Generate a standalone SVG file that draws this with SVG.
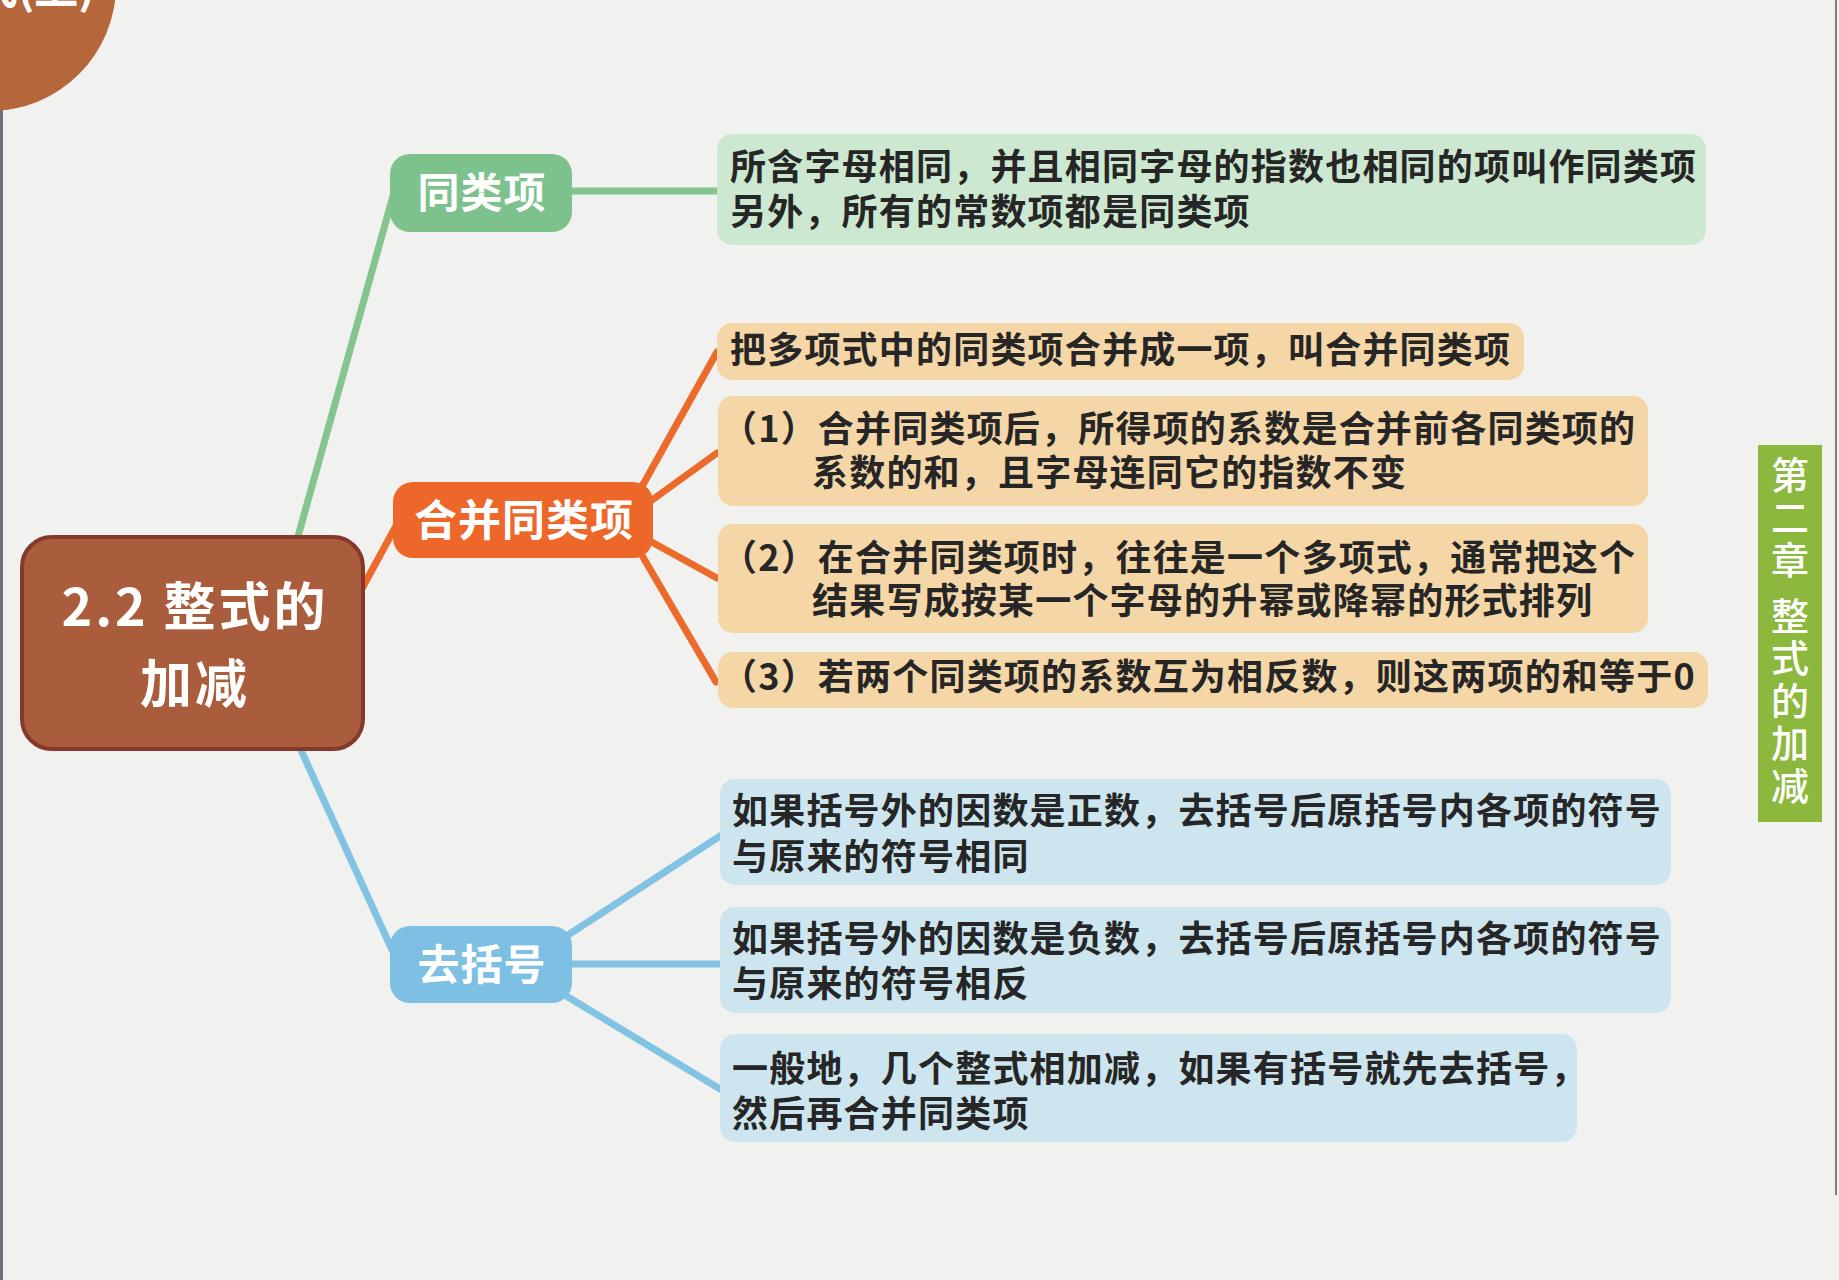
<svg xmlns="http://www.w3.org/2000/svg" width="1839" height="1280" viewBox="0 0 1839 1280">
  <style>
    .bg { fill: #f1f1ef; }
    .node-text { font-family: "Noto Sans CJK SC", "Noto Sans", sans-serif; font-weight: 700; fill: #ffffff; text-anchor: middle; }
    .box-text { font-family: "Noto Sans CJK SC", "Noto Sans", sans-serif; font-weight: 700; fill: #262626; font-size: 36px; letter-spacing: 1.2px; }
    .green-box { fill: #cde8d1; }
    .orange-box { fill: #f5d6a7; }
    .blue-box { fill: #cde5ef; }
    .line { fill: none; stroke-width: 7; stroke-linecap: round; }
    .g { stroke: #84c48e; }
    .o { stroke: #ec6a2b; }
    .b { stroke: #82c2e2; }
    .vtext { font-family: "Noto Sans CJK SC", "Noto Sans", sans-serif; font-weight: 500; font-size: 38px; fill: #ffffff; writing-mode: vertical-rl; letter-spacing: 4.5px; }
  </style>
  <rect class="bg" x="0" y="0" width="1839" height="1280"/>
  <rect x="0" y="0" width="3" height="1280" fill="#6e7277"/>
  <line x1="1836" y1="0" x2="1836" y2="1195" stroke="#7d7d7d" stroke-width="2"/>

  <g id="corner-badge">
    <circle cx="-10" cy="-15" r="126" fill="#b5663a"/>
    <text x="95" y="4" font-family="Noto Sans CJK SC, Noto Sans, sans-serif" font-weight="700" font-size="44" fill="#ffffff" text-anchor="end">式(上)</text>
  </g>

  <g id="connectors">
    <line class="line g" x1="297" y1="540" x2="393" y2="196"/>
    <line class="line g" x1="570" y1="191" x2="717" y2="191"/>
    <line class="line o" x1="360" y1="592" x2="402" y2="515"/>
    <line class="line o" x1="640" y1="490" x2="717" y2="352"/>
    <line class="line o" x1="648" y1="503" x2="717" y2="453"/>
    <line class="line o" x1="648" y1="540" x2="717" y2="578"/>
    <line class="line o" x1="640" y1="552" x2="716" y2="682"/>
    <line class="line b" x1="300" y1="748" x2="393" y2="952"/>
    <line class="line b" x1="568" y1="935" x2="720" y2="836"/>
    <line class="line b" x1="568" y1="964" x2="720" y2="964"/>
    <line class="line b" x1="568" y1="997" x2="720" y2="1089"/>
  </g>

  <g id="root">
    <rect x="22" y="537" width="341" height="212" rx="30" fill="#a95d3d" stroke="#85392a" stroke-width="4"/>
    <text class="node-text" font-size="52" letter-spacing="3"><tspan x="195" y="626">2.2 整式的</tspan><tspan x="195" y="703">加减</tspan></text>
  </g>

  <g id="n-tongleixiang">
    <rect x="390" y="154" width="182" height="78" rx="20" fill="#7dc28c"/>
    <text class="node-text" x="482" y="208" font-size="42" letter-spacing="1">同类项</text>
  </g>

  <g id="n-hebing">
    <rect x="393" y="482" width="260" height="76" rx="20" fill="#ec6729"/>
    <text class="node-text" x="524" y="536" font-size="43" letter-spacing="1">合并同类项</text>
  </g>

  <g id="n-qukuohao">
    <rect x="390" y="926" width="182" height="77" rx="20" fill="#7dc0e3"/>
    <text class="node-text" x="482" y="980" font-size="42" letter-spacing="1">去括号</text>
  </g>

  <g id="b-tongleixiang">
    <rect class="green-box" x="717" y="134" width="989" height="111" rx="15"/>
    <text class="box-text"><tspan x="730" y="180">所含字母相同，并且相同字母的指数也相同的项叫作同类项</tspan><tspan x="730" y="225">另外，所有的常数项都是同类项</tspan></text>
  </g>

  <g id="b-hebing-def">
    <rect class="orange-box" x="717" y="323" width="807" height="57" rx="15"/>
    <text class="box-text" x="730" y="363">把多项式中的同类项合并成一项，叫合并同类项</text>
  </g>

  <g id="b-hebing-1">
    <rect class="orange-box" x="718" y="396" width="930" height="110" rx="15"/>
    <text class="box-text"><tspan x="721" y="442">（1）合并同类项后，所得项的系数是合并前各同类项的</tspan><tspan x="812" y="486">系数的和，且字母连同它的指数不变</tspan></text>
  </g>

  <g id="b-hebing-2">
    <rect class="orange-box" x="718" y="524" width="930" height="109" rx="15"/>
    <text class="box-text"><tspan x="721" y="571">（2）在合并同类项时，往往是一个多项式，通常把这个</tspan><tspan x="812" y="614">结果写成按某一个字母的升幂或降幂的形式排列</tspan></text>
  </g>

  <g id="b-hebing-3">
    <rect class="orange-box" x="718" y="652" width="990" height="56" rx="15"/>
    <text class="box-text" x="721" y="690">（3）若两个同类项的系数互为相反数，则这两项的和等于0</text>
  </g>

  <g id="b-qukuohao-1">
    <rect class="blue-box" x="720" y="779" width="951" height="106" rx="15"/>
    <text class="box-text"><tspan x="732" y="824">如果括号外的因数是正数，去括号后原括号内各项的符号</tspan><tspan x="732" y="870">与原来的符号相同</tspan></text>
  </g>

  <g id="b-qukuohao-2">
    <rect class="blue-box" x="720" y="907" width="951" height="106" rx="15"/>
    <text class="box-text"><tspan x="732" y="952">如果括号外的因数是负数，去括号后原括号内各项的符号</tspan><tspan x="732" y="997">与原来的符号相反</tspan></text>
  </g>

  <g id="b-qukuohao-3">
    <rect class="blue-box" x="720" y="1034" width="857" height="108" rx="15"/>
    <text class="box-text"><tspan x="732" y="1082">一般地，几个整式相加减，如果有括号就先去括号，</tspan><tspan x="732" y="1127">然后再合并同类项</tspan></text>
  </g>

  <g id="side-tab">
    <rect x="1758" y="445" width="64" height="377" fill="#8cb83e"/>
    <text class="vtext" x="1790" y="456">第二章 整式的加减</text>
  </g>
</svg>
